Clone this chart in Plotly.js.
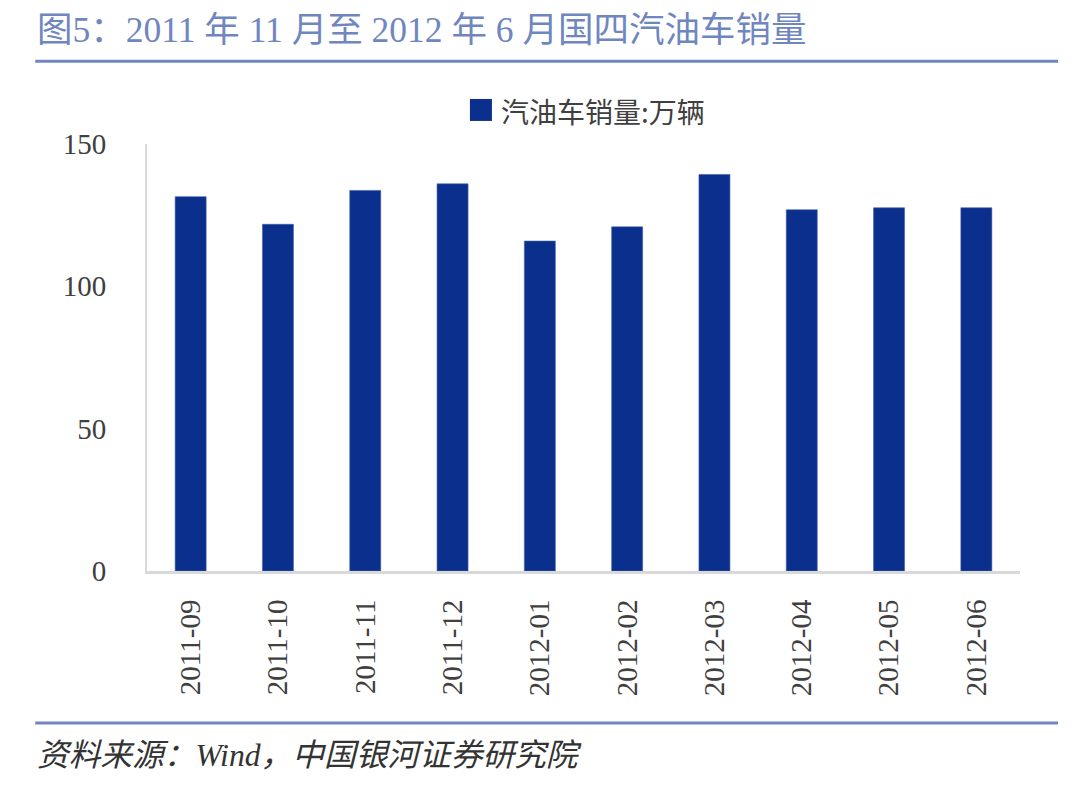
<!DOCTYPE html>
<html>
<head>
<meta charset="utf-8">
<script src="https://cdn.plot.ly/plotly-3.0.1.min.js"></script>
<style>html,body{margin:0;padding:0;background:#fff;}#chart{width:1080px;height:787px;}</style>
</head>
<body>
<div id="chart"></div>
<script>
const categories = ["2011-09","2011-10","2011-11","2011-12","2012-01","2012-02","2012-03","2012-04","2012-05","2012-06"];
const salesValues = [131.5, 121.8, 133.7, 136.0, 115.9, 120.9, 139.3, 126.9, 127.6, 127.6];
const seriesName = "汽油车销量:万辆";
const yTicks = [0, 50, 100, 150];
const chartTitle = "图5：2011 年 11 月至 2012 年 6 月国四汽油车销量";
const sourceNote = "资料来源：Wind，中国银河证券研究院";

const serif = "'Liberation Serif', 'Noto Sans CJK SC', serif";
const barColor = "#0A2F8C";

const trace = {
  type: "bar",
  x: categories,
  y: salesValues,
  name: seriesName,
  marker: {color: barColor, line: {color: "#3f5fa8", width: 0.6}},
  showlegend: false,
  hoverinfo: "x+y"
};

const layout = {
  width: 1080,
  height: 787,
  paper_bgcolor: "#ffffff",
  plot_bgcolor: "#ffffff",
  margin: {l: 147, r: 60, t: 144, b: 216},
  bargap: 0.645,
  showlegend: false,
  xaxis: {
    type: "category",
    tickangle: -90,
    showgrid: false,
    showline: true,
    linecolor: "#D9D9D9",
    linewidth: 3,
    ticks: "",
    ticklabelstandoff: 14,
    tickfont: {family: serif, size: 29, color: "#404040"},
    zeroline: false
  },
  yaxis: {
    range: [0, 150],
    tickvals: yTicks,
    ticktext: yTicks.map(String),
    showgrid: false,
    showline: true,
    linecolor: "#D9D9D9",
    linewidth: 2,
    ticks: "",
    ticklabelstandoff: 33,
    tickfont: {family: serif, size: 29, color: "#404040"},
    zeroline: false,
    fixedrange: true
  },
  shapes: [
    {type: "line", xref: "paper", yref: "paper", x0: -0.128, x1: 1.0435, y0: 1.194, y1: 1.194, line: {color: "#6F86BF", width: 3}},
    {type: "line", xref: "paper", yref: "paper", x0: -0.128, x1: 1.0435, y0: -0.356, y1: -0.356, line: {color: "#6F86BF", width: 3}},
    {type: "rect", xref: "paper", yref: "paper", x0: 0.3699, x1: 0.3951, y0: 1.054, y1: 1.1055, fillcolor: barColor, line: {width: 0}}
  ],
  annotations: [
    {xref: "paper", yref: "paper", x: -0.128, y: 1.267, xanchor: "left", yanchor: "middle", showarrow: false,
     text: chartTitle, font: {family: serif, size: 35.5, color: "#6F86BF"}},
    {xref: "paper", yref: "paper", x: 0.403, y: 1.078, xanchor: "left", yanchor: "middle", showarrow: false,
     text: seriesName, font: {family: "'Noto Sans CJK SC', sans-serif", size: 28, color: "#404040"}},
    {xref: "paper", yref: "paper", x: -0.128, y: -0.431, xanchor: "left", yanchor: "middle", showarrow: false,
     text: "<i>" + sourceNote + "</i>", font: {family: serif, size: 31.7, color: "#333333"}}
  ]
};

Plotly.newPlot("chart", [trace], layout, {displayModeBar: false, staticPlot: true});
</script>
</body>
</html>
